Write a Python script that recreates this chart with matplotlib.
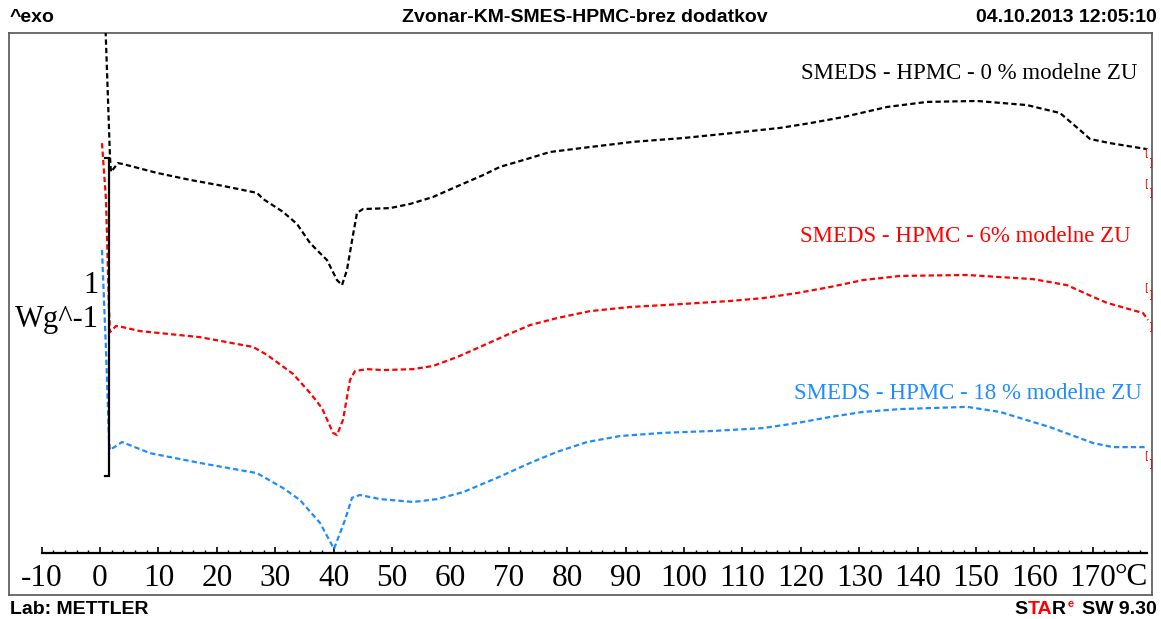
import matplotlib
matplotlib.use("Agg")
import matplotlib.pyplot as plt
import numpy as np

# DSC curves: temperature (degC) and heat flow (W/g, arbitrary offset)
t_black = [0.86, 1.71, 1.88, 3.08, 3.94, 9.76, 15.41, 21.06, 26.88, 27.91, 31.34, 33.73,
           35.96, 37.67, 38.87, 40.58, 41.44, 42.29, 43.32, 44.01, 45.03, 49.66, 53.08,
           57.02, 60.45, 65.58, 68.49, 73.12, 77.05, 82.71, 91.27, 99.83, 108.39, 116.44,
           121.58, 127.23, 134.76, 141.61, 150.17, 158.73, 164.38, 167.81, 169.52, 172.95,
           179.28]
h_black = [1.70, 1.249, 1.202, 1.230, 1.227, 1.199, 1.177, 1.158, 1.136, 1.117, 1.076, 1.038,
           0.978, 0.946, 0.924, 0.861, 0.845, 0.893, 1.003, 1.073, 1.085, 1.088, 1.101,
           1.123, 1.151, 1.192, 1.218, 1.243, 1.265, 1.278, 1.297, 1.309, 1.325, 1.341,
           1.356, 1.375, 1.407, 1.423, 1.426, 1.413, 1.388, 1.334, 1.306, 1.293,
           1.274]

t_red = [0.34, 1.03, 1.54, 1.71, 2.74, 3.77, 6.85, 17.12, 26.20, 28.60, 33.05, 35.96, 38.01,
         39.90, 40.58, 41.61, 42.81, 43.66, 45.72, 48.46, 53.60, 57.02, 61.13, 65.07, 69.69,
         73.63, 78.25, 83.90, 90.75, 99.32, 107.88, 113.53, 119.35, 125.00, 130.65, 136.99,
         148.46, 159.76, 165.58, 170.03, 172.43, 178.60, 179.45]
h_red = [1.293, 1.114, 0.767, 0.697, 0.716, 0.713, 0.700, 0.681, 0.650, 0.625, 0.565, 0.505,
         0.457, 0.379, 0.372, 0.420, 0.546, 0.574, 0.580, 0.577, 0.580, 0.590, 0.618, 0.650,
         0.688, 0.719, 0.741, 0.763, 0.776, 0.785, 0.795, 0.804, 0.820, 0.839, 0.861, 0.874,
         0.877, 0.864, 0.845, 0.808, 0.789, 0.757, 0.735]

t_blue = [0.34, 1.03, 1.54, 1.71, 3.77, 8.56, 17.12, 26.88, 31.34, 34.25, 37.67, 40.07, 41.95,
          43.15, 44.52, 47.95, 53.60, 57.71, 62.16, 67.98, 73.63, 78.25, 83.39, 89.04, 96.40,
          104.97, 113.53, 119.35, 125.00, 130.65, 136.99, 148.46, 154.11, 162.67, 170.03,
          173.46, 179.28]
h_blue = [0.956, 0.640, 0.356, 0.325, 0.350, 0.315, 0.284, 0.252, 0.205, 0.167, 0.095, 0.013,
          0.104, 0.174, 0.183, 0.170, 0.161, 0.170, 0.192, 0.237, 0.284, 0.319, 0.350, 0.369,
          0.379, 0.385, 0.394, 0.410, 0.429, 0.445, 0.454, 0.461, 0.445, 0.397, 0.347,
          0.334, 0.334]

series_labels = ["SMEDS - HPMC - 0 % modelne ZU",
                 "SMEDS - HPMC - 6% modelne ZU",
                 "SMEDS - HPMC - 18 % modelne ZU"]
series_colors = ["black", "#ff0000", "#1e8cff"]
label_pos = [(177.7, 1.513), (176.4, 0.997), (178.3, 0.503)]

# evaluation limit brackets at the end of the curves
bracket_t = [179.1, 179.8, 179.1, 179.8, 179.1, 179.8, 179.8, 179.1, 179.8]
bracket_h = [1.265, 1.233, 1.167, 1.139, 0.839, 0.817, 0.716, 0.309, 0.284]
bracket_c = ["[", "]", "[", "]", "[", "]", "]", "[", "]"]

tick_vals = list(range(-10, 180, 10))
scale_bar = (1.54, 0.243, 1.246)  # x, bottom, top of 1 W/g bar

W, H = 1161, 619
fig = plt.figure(figsize=(W / 100, H / 100), dpi=100)

def fx(px):
    return px / W

def fy(py):
    return 1 - py / H

# outer frame
frame = fig.add_axes([fx(9), fy(595), fx(1152) - fx(9), fy(33) - fy(595)])
frame.set_xticks([])
frame.set_yticks([])
for s in frame.spines.values():
    s.set_color("#555555")
    s.set_linewidth(1.2)

# data axes, bottom spine is the temperature axis
ax = fig.add_axes([fx(9), fy(553), fx(1152) - fx(9), fy(33) - fy(553)])
ax.patch.set_alpha(0)
ax.set_xlim((9 - 100) / 5.84, (1152 - 100) / 5.84)
ax.set_ylim(0, (553 - 33) / 317)
for side in ["left", "right", "top"]:
    ax.spines[side].set_visible(False)
ax.spines["bottom"].set_bounds(-10, 179.3)
ax.spines["bottom"].set_linewidth(1.6)
ax.set_yticks([])
ax.set_xticks(tick_vals)
ax.set_xticks(np.arange(-10, 180, 2), minor=True)
ax.set_xticklabels([str(v) for v in tick_vals], fontfamily="Liberation Serif", fontsize=22.5)
ax.tick_params(axis="x", which="major", direction="in", length=4.5, width=1.2, pad=8)
ax.tick_params(axis="x", which="minor", direction="in", length=2.5, width=1.0)
ax.text(173.7, -0.078, "°C", fontfamily="Liberation Serif", fontsize=22.5,
        ha="left", va="center", clip_on=False)

for t, h, c in [(t_black, h_black, series_colors[0]),
                (t_red, h_red, series_colors[1]),
                (t_blue, h_blue, series_colors[2])]:
    ax.plot(t, h, color=c, linewidth=1.6, linestyle=(0, (2.4, 1.4)))

for lab, c, (x, y) in zip(series_labels, series_colors, label_pos):
    ax.text(x, y, lab, color=c, fontfamily="Liberation Serif", fontsize=16.5,
            ha="right", va="center")

for t, h, ch in zip(bracket_t, bracket_h, bracket_c):
    ax.text(t, h, ch, color="#ff0000", fontsize=7, ha="center", va="center")

# 1 W/g scale bar
bx, b0, b1 = scale_bar
ax.plot([bx - 0.7, bx, bx, bx - 0.7], [b0, b0, b1, b1], color="black",
        linewidth=1.6, solid_joinstyle="miter")
ax.text(-0.3, 0.845, "1", fontfamily="Liberation Serif", fontsize=22,
        ha="right", va="center")
ax.text(-0.2, 0.713, "Wg^-1", fontfamily="Liberation Serif", fontsize=22,
        ha="right", va="baseline")

# header and footer
hdr = dict(fontfamily="Liberation Sans", fontweight="bold", fontsize=14)
fig.text(fx(10), fy(17), "^exo", ha="left", va="center", **hdr)
fig.text(fx(585), fy(17), "Zvonar-KM-SMES-HPMC-brez dodatkov", ha="center", va="center", **hdr)
fig.text(fx(1157), fy(17), "04.10.2013 12:05:10", ha="right", va="center", **hdr)
fig.text(fx(10), fy(609), "Lab: METTLER", ha="left", va="center", **hdr)

# "STAR^e SW 9.30" laid out right to left
renderer = fig.canvas.get_renderer()
pieces = [("SW 9.30", "black", 14, 0, 9),
          ("e", "#ff0000", 8, -5, 1),
          ("R", "black", 14, 0, 0),
          ("TA", "#ff0000", 14, 0, 0),
          ("S", "black", 14, 0, 0)]
xr = 1157
for txt, col, size, dy, gap in pieces:
    tt = fig.text(fx(xr), fy(609 + dy), txt, ha="right", va="center", color=col,
                  fontfamily="Liberation Sans", fontweight="bold", fontsize=size)
    w = tt.get_window_extent(renderer).width
    xr = xr - w - gap

fig.savefig("out.png", dpi=100)
